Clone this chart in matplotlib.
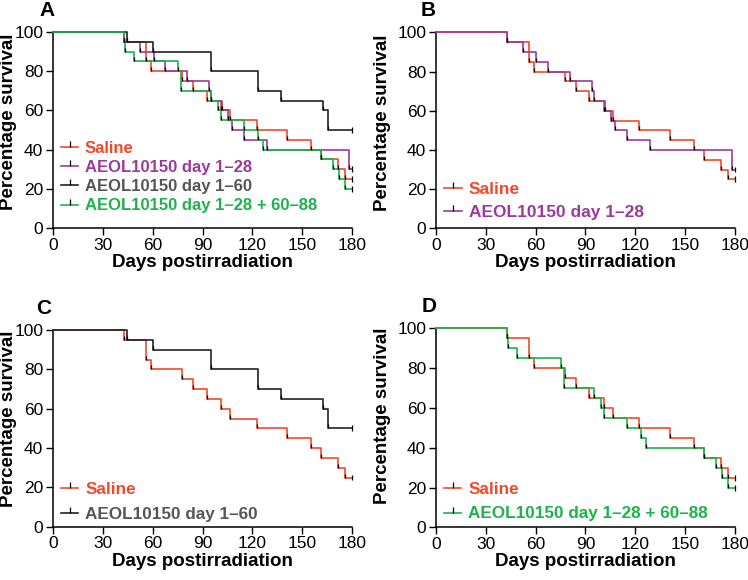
import matplotlib
matplotlib.use('Agg')
import matplotlib.pyplot as plt
from matplotlib.lines import Line2D

plt.rcParams['font.family'] = ['Liberation Sans', 'DejaVu Sans']

# Kaplan-Meier events: day of death and survival (%) after it
saline_days = [42.5, 56, 59, 77.7, 84.3, 92.4, 101.4, 106.4, 122.5, 140.6, 155.6, 161.6, 171.7, 175.7]
saline_surv = [95, 85, 80, 75, 70, 65, 60, 55, 50, 45, 40, 35, 30, 25]

d128_days = [42.5, 52.5, 60.5, 67.5, 80.6, 94.2, 95.3, 101.8, 105.6, 107.6, 115.2, 128.9, 178]
d128_surv = [95, 90, 85, 80, 75, 70, 65, 60, 55, 50, 45, 40, 30]

d160_days = [44.8, 60, 95.4, 123.5, 137, 162.7, 165.7]
d160_surv = [95, 90, 80, 70, 65, 60, 50]

d12860_days = [42.5, 43.5, 49, 75.5, 77, 95, 99.6, 101.2, 115.2, 123.2, 126.3, 161.3, 168.4, 172.4, 175.8]
d12860_surv = [95, 90, 85, 80, 70, 65, 60, 55, 50, 45, 40, 35, 30, 25, 20]

end_day = 180
x_ticks = [0, 30, 60, 90, 120, 150, 180]
y_ticks = [0, 20, 40, 60, 80, 100]

groups = {
    'saline': (saline_days, saline_surv, '#ee4a2c', '#ee4a2c', 'Saline'),
    'd128': (d128_days, d128_surv, '#9a3b9b', '#9a3b9b', 'AEOL10150 day 1\u201328'),
    'd160': (d160_days, d160_surv, '#222222', '#555555', 'AEOL10150 day 1\u201360'),
    'd12860': (d12860_days, d12860_surv, '#1fb14c', '#1fb14c', 'AEOL10150 day 1\u201328 + 60\u201388'),
}


def km_curve(ax, key):
    days, surv, col, _, _ = groups[key]
    xs = [0] + list(days) + [end_day]
    ys = [100] + list(surv) + [surv[-1]]
    ax.step(xs, ys, where='post', color=col, lw=1.2, clip_on=False, zorder=3)
    # small black marks at each event
    ax.vlines(days, [s for s in surv], [s + 2 for s in surv], color='black', lw=0.9, zorder=4)
    ax.vlines([end_day], [surv[-1] - 1.5], [surv[-1] + 1.5], color='black', lw=0.9, zorder=4, clip_on=False)


def draw_panel(rect, letter, keys, leg_y, leg_size, leg_space, ylab_xy, letter_xy):
    ax = fig.add_axes(rect)
    for k in keys:
        km_curve(ax, k)
    ax.set_xlim(0, end_day)
    ax.set_ylim(0, 100)
    ax.set_xticks(x_ticks)
    ax.set_yticks(y_ticks)
    ax.spines['top'].set_visible(False)
    ax.spines['right'].set_visible(False)
    for s in ['left', 'bottom']:
        ax.spines[s].set_linewidth(1.1)
    ax.tick_params(direction='out', length=5, width=1.0, labelsize=12.5, pad=2)
    ax.set_xlabel('Days postirradiation', fontsize=13.5, fontweight='bold', labelpad=1)
    ax.set_ylabel('Percentage survival', fontsize=13.5, fontweight='bold')
    ax.yaxis.set_label_coords(*ylab_xy)
    handles = [Line2D([0], [0], color=groups[k][2], lw=1.2, marker=2, markersize=4,
                      markeredgecolor='black', markeredgewidth=0.9) for k in keys]
    labels = [groups[k][4] for k in keys]
    leg = ax.legend(handles, labels, loc='lower left', bbox_to_anchor=(0.005, leg_y),
                    frameon=False, handlelength=1.0, handletextpad=0.4, labelspacing=leg_space,
                    borderaxespad=0, prop={'size': leg_size, 'weight': 'bold'})
    for t, k in zip(leg.get_texts(), keys):
        t.set_color(groups[k][3])
    fig.text(letter_xy[0] / 748, 1 - letter_xy[1] / 580, letter, fontsize=15,
             fontweight='bold', ha='center', va='center')
    return ax


fig = plt.figure(figsize=(7.48, 5.8), dpi=100)

draw_panel([0.0709, 0.6069, 0.3997, 0.338], 'A', ['saline', 'd128', 'd160', 'd12860'],
           0.04, 12, 0.25, (-0.12, 0.54), (47, 11))
draw_panel([0.5829, 0.6063, 0.3997, 0.338], 'B', ['saline', 'd128'],
           0.005, 12.5, 0.45, (-0.15, 0.54), (428, 11))
draw_panel([0.0709, 0.0919, 0.3997, 0.339], 'C', ['saline', 'd160'],
           -0.01, 12.3, 0.55, (-0.122, 0.55), (44, 308))
draw_panel([0.5829, 0.0908, 0.3997, 0.343], 'D', ['saline', 'd12860'],
           -0.005, 12.3, 0.55, (-0.15, 0.56), (429, 307))

fig.savefig('out.png', dpi=100)
